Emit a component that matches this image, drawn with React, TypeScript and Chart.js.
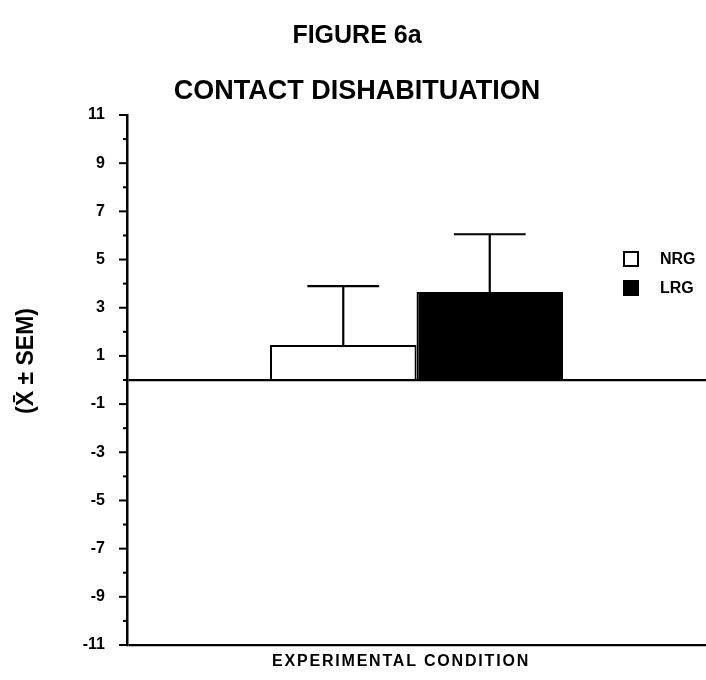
import { useEffect, useRef } from "react";
import { Chart, registerables } from "chart.js";

Chart.register(...registerables);

// Groups, their means and standard errors
const groups = ["NRG", "LRG"];
const means = [1.45, 3.65];
const sems = [2.45, 2.4];
const fills = ["#ffffff", "#000000"];
const conditions = [""];

// Y axis range and labelled ticks (odd values only; even values get short marks)
const yMin = -11;
const yMax = 11;
const yTickLabels = ["11", "9", "7", "5", "3", "1", "-1", "-3", "-5", "-7", "-9", "-11"];

const titleLines = ["FIGURE 6a", "CONTACT DISHABITUATION"];
const yTitle = "(X\u0304 \u00B1 SEM)";
const xTitle = "EXPERIMENTAL CONDITION";

const FONT = "'Liberation Sans', Arial, Helvetica, sans-serif";

const decorPlugin = {
  id: "decor",
  afterDraw(chart: any) {
    const ctx = chart.ctx as CanvasRenderingContext2D;
    const area = chart.chartArea;
    const y = chart.scales.y;
    ctx.save();
    ctx.strokeStyle = "#000";
    ctx.fillStyle = "#000";

    // tick marks on the y axis: long for labelled values, short in between
    ctx.lineWidth = 2;
    for (let v = yMin; v <= yMax; v++) {
      const py = y.getPixelForValue(v);
      const len = Math.abs(v) % 2 === 1 ? 8 : 4;
      ctx.beginPath();
      ctx.moveTo(area.left - len, py);
      ctx.lineTo(area.left, py);
      ctx.stroke();
    }

    // error bars (upper half only)
    ctx.lineWidth = 2.2;
    chart.data.datasets.forEach((ds: any, i: number) => {
      const meta = chart.getDatasetMeta(i);
      const bar = meta.data[0];
      if (!bar) return;
      const top = y.getPixelForValue(means[i] + sems[i]);
      const half = bar.width * 0.245;
      ctx.beginPath();
      ctx.moveTo(bar.x, bar.y);
      ctx.lineTo(bar.x, top);
      ctx.moveTo(bar.x - half, top);
      ctx.lineTo(bar.x + half, top);
      ctx.stroke();
    });

    // legend
    ctx.font = `bold 16px ${FONT}`;
    ctx.textBaseline = "middle";
    ctx.textAlign = "left";
    groups.forEach((g, i) => {
      const cy = 259 + i * 29;
      ctx.fillStyle = fills[i];
      ctx.fillRect(624, cy - 7, 14, 14);
      ctx.lineWidth = 2;
      ctx.strokeRect(624, cy - 7, 14, 14);
      ctx.fillStyle = "#000";
      ctx.fillText(g, 660, cy + 1);
    });

    // titles
    ctx.textAlign = "center";
    ctx.textBaseline = "alphabetic";
    ctx.font = `bold 25px ${FONT}`;
    ctx.fillText(titleLines[0], 357, 43);
    ctx.font = `bold 27px ${FONT}`;
    ctx.fillText(titleLines[1], 357, 99);

    // x axis title
    ctx.font = `bold 16px ${FONT}`;
    (ctx as any).letterSpacing = "1.8px";
    ctx.textBaseline = "middle";
    ctx.fillText(xTitle, 401, 662);
    (ctx as any).letterSpacing = "0px";

    // y axis title
    ctx.save();
    ctx.translate(27, 361);
    ctx.rotate(-Math.PI / 2);
    ctx.font = `bold 23px ${FONT}`;
    ctx.fillText(yTitle, 0, 0);
    ctx.restore();

    ctx.restore();
  },
};

export default function App() {
  const canvasRef = useRef<HTMLCanvasElement | null>(null);

  useEffect(() => {
    if (!canvasRef.current) return;
    const chart = new Chart(canvasRef.current, {
      type: "bar",
      data: {
        labels: conditions,
        datasets: groups.map((g, i) => ({
          label: g,
          data: [means[i]],
          backgroundColor: fills[i],
          borderColor: "#000",
          borderWidth: 2,
          categoryPercentage: 0.506,
          barPercentage: 1,
        })),
      },
      options: {
        animation: false,
        responsive: false,
        maintainAspectRatio: false,
        layout: { padding: { top: 115, bottom: 35, left: 0, right: 0 } },
        plugins: {
          legend: { display: false },
          title: { display: false },
          tooltip: { enabled: false },
        },
        scales: {
          x: { display: false },
          y: {
            min: yMin,
            max: yMax,
            z: 1,
            afterFit(scale: any) {
              scale.width = 127;
            },
            border: { display: true, color: "#000", width: 2.5 },
            grid: {
              drawTicks: false,
              lineWidth: 2.2,
              color: (c: any) =>
                c.tick && (c.tick.value === 0 || c.tick.value === yMin) ? "#000" : "rgba(0,0,0,0)",
            },
            ticks: {
              stepSize: 1,
              autoSkip: false,
              padding: 22,
              color: "#000",
              font: { family: FONT, size: 16, weight: "bold" },
              callback: (v: any) => {
                const idx = yTickLabels.indexOf(String(v));
                return idx >= 0 ? yTickLabels[idx] : "";
              },
            },
          },
        },
      },
      plugins: [decorPlugin],
    });
    return () => chart.destroy();
  }, []);

  return (
    <div style={{ position: "fixed", left: 0, top: 0, width: 706, height: 680, background: "#fff" }}>
      <canvas ref={canvasRef} width={706} height={680} style={{ display: "block" }} />
    </div>
  );
}
